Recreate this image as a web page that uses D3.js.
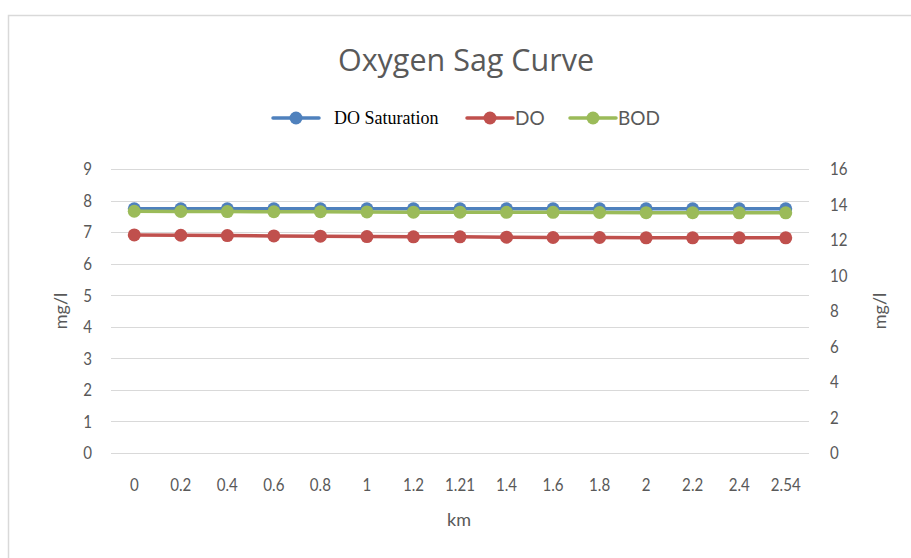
<!DOCTYPE html>
<html><head><meta charset="utf-8">
<script src="https://cdn.jsdelivr.net/npm/d3@7"></script>
<style>body{margin:0;background:#fff}svg{display:block}</style>
</head><body><svg id="c" width="911" height="558"></svg>
<script>
const categories = ["0","0.2","0.4","0.6","0.8","1","1.2","1.21","1.4","1.6","1.8","2","2.2","2.4","2.54"];
const doSaturation = [7.74,7.74,7.74,7.74,7.74,7.74,7.74,7.74,7.74,7.74,7.74,7.74,7.74,7.74,7.74];
const doValues = [6.91,6.90,6.89,6.88,6.87,6.86,6.85,6.85,6.84,6.83,6.83,6.82,6.82,6.82,6.82];
const bodValues = [13.62,13.61,13.60,13.59,13.59,13.58,13.57,13.57,13.56,13.56,13.55,13.54,13.54,13.53,13.53];
const leftTicks = [0,1,2,3,4,5,6,7,8,9];
const rightTicks = [0,2,4,6,8,10,12,14,16];

const svg = d3.select("#c");
const gray = "#595959", grid = "#d9d9d9";
const font = "Lato, sans-serif";
const sx = 0.84; // narrow look of tick labels

// chart frame
svg.append("path").attr("d","M8.5,560 V15.5 H911").attr("fill","none").attr("stroke","#d9d9d9").attr("stroke-width",1.5);

const x = d3.scaleBand().domain(categories).range([111, 809]);
const yL = d3.scaleLinear().domain([0,9]).range([453, 169]);
const yR = d3.scaleLinear().domain([0,16]).range([453, 169]);

// gridlines
svg.append("g").selectAll("line").data(leftTicks).join("line")
  .attr("x1",111).attr("x2",809).attr("y1",d=>Math.round(yL(d))+0.5).attr("y2",d=>Math.round(yL(d))+0.5)
  .attr("stroke",grid).attr("stroke-width",1);

// left axis labels
svg.append("g").selectAll("text").data(leftTicks).join("text")
  .attr("transform",d=>`translate(92,${yL(d)}) scale(${sx},1)`).attr("dy","0.35em").attr("text-anchor","end")
  .attr("font-family",font).attr("font-size",18).attr("fill",gray).text(d=>d);
// right axis labels
svg.append("g").selectAll("text").data(rightTicks).join("text")
  .attr("transform",d=>`translate(830,${yR(d)}) scale(${sx},1)`).attr("dy","0.35em").attr("text-anchor","start")
  .attr("font-family",font).attr("font-size",18).attr("fill",gray).text(d=>d);
// x labels
svg.append("g").selectAll("text").data(categories).join("text")
  .attr("transform",d=>`translate(${x(d)+x.bandwidth()/2},485) scale(${sx},1)`).attr("dy","0.35em").attr("text-anchor","middle")
  .attr("font-family",font).attr("font-size",18).attr("fill",gray).text(d=>d);

// axis titles
svg.append("text").attr("x",459).attr("y",520).attr("dy","0.35em").attr("text-anchor","middle")
  .attr("font-family",font).attr("font-size",18).attr("fill",gray).text("km");
svg.append("text").attr("transform","translate(61,311) rotate(-90)").attr("dy","0.35em").attr("text-anchor","middle")
  .attr("font-family",font).attr("font-size",18).attr("fill",gray).text("mg/l");
svg.append("text").attr("transform","translate(880,311) rotate(-90)").attr("dy","0.35em").attr("text-anchor","middle")
  .attr("font-family",font).attr("font-size",18).attr("fill",gray).text("mg/l");

// title
svg.append("text").attr("x",466).attr("y",60).attr("dy","0.35em").attr("text-anchor","middle")
  .attr("font-family","'Open Sans', sans-serif").attr("font-size",30.5).attr("fill",gray).text("Oxygen Sag Curve");

// series
const series = [
  {name:"DO Saturation", values:doSaturation, y:yL, color:"#4f81bd"},
  {name:"DO", values:doValues, y:yL, color:"#c0504d"},
  {name:"BOD", values:bodValues, y:yR, color:"#9bbb59"}
];
series.forEach(s=>{
  const cx = (d,i)=>x(categories[i])+x.bandwidth()/2;
  const line = d3.line().x(cx).y(d=>s.y(d));
  svg.append("path").datum(s.values).attr("d",line).attr("fill","none")
    .attr("stroke",s.color).attr("stroke-width",3.5).attr("stroke-linejoin","round").attr("stroke-linecap","round");
  svg.append("g").selectAll("circle").data(s.values).join("circle")
    .attr("cx",cx).attr("cy",d=>s.y(d)).attr("r",6.5).attr("fill",s.color);
});

// legend
const legend = [
  {name:"DO Saturation", color:"#4f81bd", x0:273, tx:334, serif:true},
  {name:"DO", color:"#c0504d", x0:467, tx:515, serif:false},
  {name:"BOD", color:"#9bbb59", x0:570, tx:618, serif:false}
];
const ly = 118;
legend.forEach(l=>{
  svg.append("line").attr("x1",l.x0).attr("x2",l.x0+46).attr("y1",ly).attr("y2",ly)
    .attr("stroke",l.color).attr("stroke-width",3.5).attr("stroke-linecap","round");
  svg.append("circle").attr("cx",l.x0+23).attr("cy",ly).attr("r",6.5).attr("fill",l.color);
  svg.append("text").attr("x",l.tx).attr("y",ly).attr("dy","0.35em")
    .attr("font-family",l.serif?"'Liberation Serif', serif":"Lato, sans-serif")
    .attr("font-size",l.serif?18:19).attr("fill",l.serif?"#000":gray).text(l.name);
});
</script></body></html>
